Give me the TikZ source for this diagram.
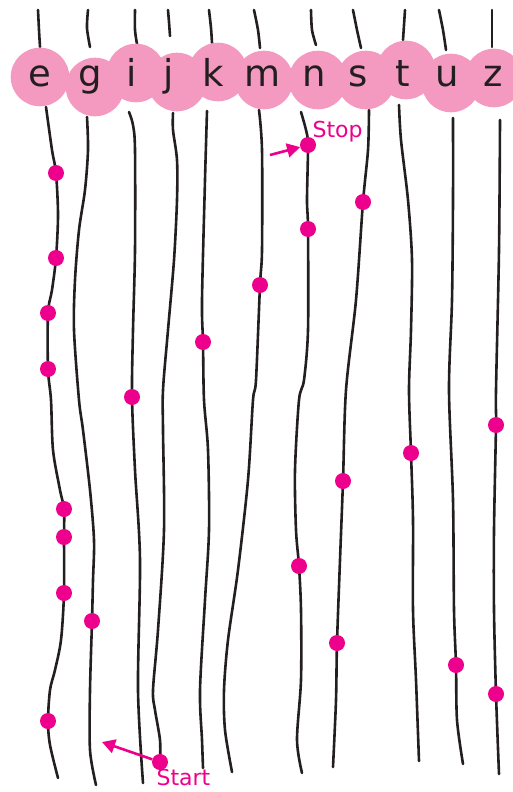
\documentclass[tikz,border=0pt]{standalone}
\usepackage{fontspec}
\setmainfont{DejaVu Sans}
\usepackage{tikz}
\usetikzlibrary{positioning}
\usetikzlibrary{arrows.meta}

\definecolor{beadpink}{RGB}{244,154,193}
\definecolor{dotmag}{RGB}{236,0,140}
\definecolor{inkdark}{RGB}{35,31,32}

\tikzset{
  thread/.style={inkdark, line width=2.6pt, line cap=round},
  bead/.style={circle, fill=beadpink, minimum size=58.6pt, inner sep=0pt},
  letter/.style={anchor=base, text=inkdark, font=\fontsize{37}{40}\selectfont},
  knot/.style={circle, fill=dotmag, minimum size=16pt, inner sep=0pt},
  tag/.style={anchor=base west, text=dotmag},
  pointer/.style={dotmag, line width=2.6pt, -{Triangle[length=13pt,width=14pt]}}
}

\begin{document}
\begin{tikzpicture}[x=1pt, y=-1pt]
  \useasboundingbox (0,0) rectangle (512,792);

  % Threads above the beads
  \draw[thread] plot[smooth] coordinates {(38,10) (39,30) (40,47)};
  \draw[thread] plot[smooth] coordinates {(88,10) (87,28) (90,47)};
  \draw[thread] plot[smooth] coordinates {(135,10) (135,30) (137,44)};
  \draw[thread] plot[smooth] coordinates {(168,10) (169,22) (170,36)};
  \draw[thread] plot[smooth] coordinates {(209,10) (211,28) (212,43)};
  \draw[thread] plot[smooth] coordinates {(254,10) (258,30) (260,48)};
  \draw[thread] plot[smooth] coordinates {(311,10) (312,30) (316,45)};
  \draw[thread] plot[smooth] coordinates {(353,10) (357,30) (361,48)};
  \draw[thread] plot[smooth] coordinates {(405,10) (404,25) (403,40)};
  \draw[thread] plot[smooth] coordinates {(439,10) (443,30) (446,50)};
  \draw[thread] plot[smooth] coordinates {(492,10) (492,30) (492,47)};

  % Threads below the beads
  \draw[thread] plot[smooth] coordinates {(46,107) (52,150) (56,173) (58,215) (56,258) (52,290)
    (48,313) (48,369) (51,400) (53,450) (60,490) (64,509) (64,537) (64,593) (61,640) (55,670)
    (50,690) (48,721) (50,745) (58,778)};
  \draw[thread] plot[smooth] coordinates {(87,117) (88,150) (85,190) (79,230) (75,280) (74,330)
    (79,400) (83,430) (90,490) (94,540) (93,580) (92,621) (90,690) (90,750) (96,785)};
  \draw[thread] plot[smooth] coordinates {(129,112) (133,125) (135,150) (135,250) (133,330)
    (132,397) (135,470) (140,560) (138,690) (143,783)};
  \draw[thread] plot[smooth] coordinates {(173,113) (173,130) (177,160) (177,200) (174,260)
    (168,330) (163,390) (163,430) (164,530) (158,630) (153,690) (155,710) (160,740) (160,762)};
  \draw[thread] plot[smooth] coordinates {(207,111) (205,180) (202,300) (203,342) (204,400)
    (208,450) (209,530) (205,600) (200,690) (202,740) (203,768)};
  \draw[thread] plot[smooth] coordinates {(259,110) (262,150) (262,250) (260,285) (256,380)
    (253,400) (248,480) (238,570) (228,640) (224,690) (225,730) (232,772)};
  \draw[thread] plot[smooth] coordinates {(301,112) (306,130) (308,145) (307,200) (308,229)
    (308,330) (304,380) (299,400) (295,470) (296,530) (299,566) (301,610) (301,680) (297,740)
    (302,773)};
  \draw[thread] plot[smooth] coordinates {(369,110) (368,150) (363,202) (356,300) (346,390)
    (343,481) (340,560) (337,643) (336,700) (333,767)};
  \draw[thread] plot[smooth] coordinates {(399,105) (401,140) (408,200) (412,260) (411,330)
    (409,390) (411,453) (413,520) (413,610) (416,680) (419,761)};
  \draw[thread] plot[smooth] coordinates {(453,118) (453,200) (452,300) (449,390) (453,500)
    (454,610) (456,665) (457,720) (463,764)};
  \draw[thread] plot[smooth] coordinates {(500,120) (499,250) (496,390) (496,425) (494,530)
    (494,610) (496,694) (499,774)};

  % Beads
  \foreach \name/\bx/\by in {e/40/77, g/95/87, i/136/73, j/177/82, k/218/72, m/264/80,
      n/318/80, s/366/80, t/406/70, u/451/83, z/494/78}
    \node[bead] (bead-\name) at (\bx,\by) {};

  % Letters
  \foreach \name/\lx in {e/40, g/90, i/132, j/169, k/213, m/263, n/314, s/358, t/403, u/447, z/493}
    \node[letter] (let-\name) at (\lx,86) {\name};

  % Knots
  \foreach \kx/\ky [count=\k] in {56/173, 56/258, 48/313, 48/369, 64/509, 64/537, 64/593, 48/721,
      92/621, 132/397, 203/342, 260/285, 308/229, 299/566, 363/202, 343/481, 337/643,
      411/453, 456/665, 496/425, 496/694}
    \node[knot] (knot\k) at (\kx,\ky) {};
  \node[knot] (stopknot) at (308,145) {};
  \node[knot] (startknot) at (160,762) {};

  % Stop and Start
  \coordinate (stoptail) at (270,155);
  \coordinate (starttip) at (102,742);
  \draw[pointer] (stoptail) -- (stopknot);
  \draw[pointer, shorten >=0pt] (startknot) -- (starttip);
  \node[tag, font=\fontsize{22}{24}\selectfont] (stoplabel) at (309,137) {Stop};
  \node[tag, font=\fontsize{22}{24}\selectfont] (startlabel) at (153,785) {Start};
\end{tikzpicture}
\end{document}
